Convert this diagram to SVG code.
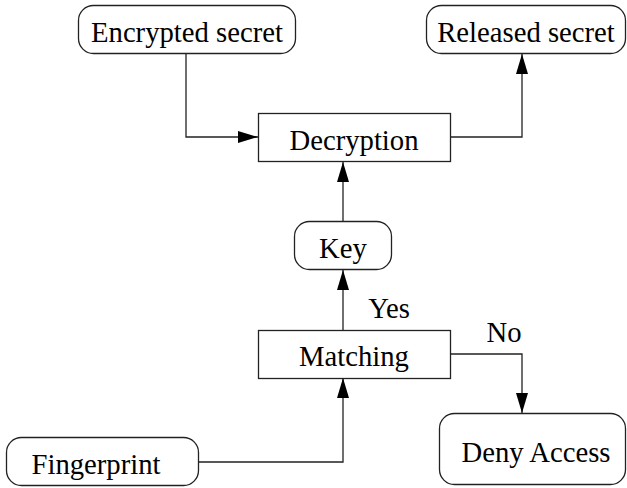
<svg xmlns="http://www.w3.org/2000/svg" width="627" height="488" viewBox="0 0 627 488">
<style>
.n{fill:#fff;stroke:#222;stroke-width:1.3}
.t{font-family:"Liberation Serif","Times New Roman",serif;font-size:28.7px;fill:#000;text-anchor:middle}
.c{fill:none;stroke:#222;stroke-width:1.3}
</style>
<defs>
<marker id="a" markerWidth="20" markerHeight="12" refX="20" refY="6" orient="auto" markerUnits="userSpaceOnUse">
<path d="M0,0 L20,6 L0,12 z" fill="#000"/>
</marker>
</defs>
<rect width="627" height="488" fill="#fff"/>
<g id="connectors">
<path class="c" d="M186,54 V137 H258" marker-end="url(#a)"/>
<path class="c" d="M450,137 H522 V54" marker-end="url(#a)"/>
<path class="c" d="M343,221 V162" marker-end="url(#a)"/>
<path class="c" d="M343,330 V270" marker-end="url(#a)"/>
<path class="c" d="M450,354 H522 V413" marker-end="url(#a)"/>
<path class="c" d="M198,462 H343 V378" marker-end="url(#a)"/>
<text class="t" x="389" y="318">Yes</text>
<text class="t" x="504" y="342">No</text>
</g>
<g id="encrypted">
<rect class="n" x="78.5" y="5.5" width="217" height="48" rx="15"/>
<text class="t" x="187" y="42">Encrypted secret</text>
</g>
<g id="released">
<rect class="n" x="426.5" y="5.5" width="199" height="48" rx="15"/>
<text class="t" x="526" y="42">Released secret</text>
</g>
<g id="decryption">
<rect class="n" x="258.5" y="113.5" width="192" height="48"/>
<text class="t" x="354" y="150">Decryption</text>
</g>
<g id="key">
<rect class="n" x="294.5" y="221.5" width="97" height="48" rx="15"/>
<text class="t" x="343" y="258">Key</text>
</g>
<g id="matching">
<rect class="n" x="258.5" y="330.5" width="192" height="48"/>
<text class="t" x="354" y="366">Matching</text>
</g>
<g id="fingerprint">
<rect class="n" x="6.5" y="437.5" width="192" height="48" rx="15"/>
<text class="t" x="96" y="474">Fingerprint</text>
</g>
<g id="deny">
<rect class="n" x="439.5" y="413.5" width="186" height="71" rx="15"/>
<text class="t" x="536" y="462">Deny Access</text>
</g>
</svg>
